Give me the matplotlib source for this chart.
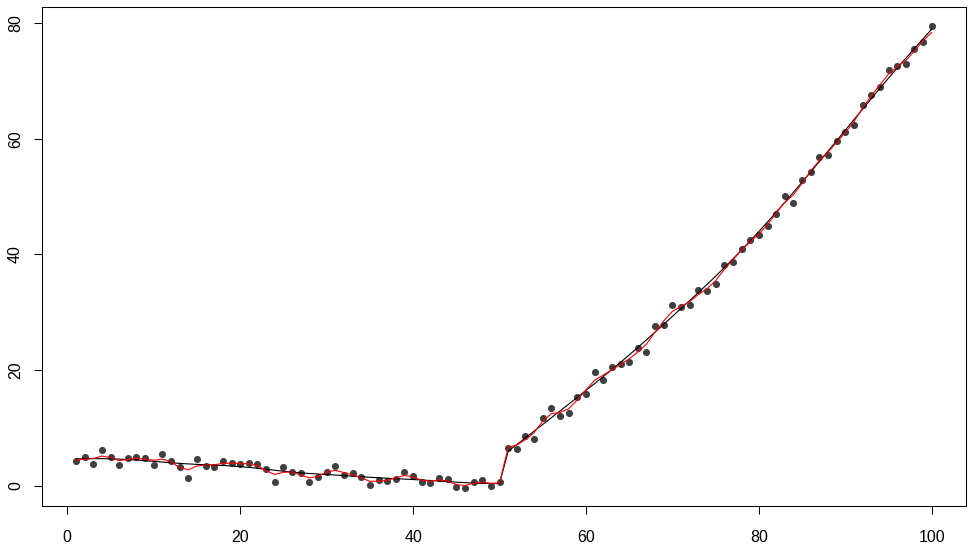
import numpy as np
import matplotlib
matplotlib.use("Agg")
import matplotlib.pyplot as plt

plt.rcParams['font.family'] = ['Liberation Sans', 'DejaVu Sans']

# observations
x = np.arange(1, 101)
y_before = [4.27, 5.06, 3.85, 6.17, 4.96, 3.68, 4.78, 5.01, 4.84, 3.68,
            5.47, 4.27, 3.23, 1.43, 4.61, 3.40, 3.33, 4.32, 3.92, 3.75,
            3.97, 3.85, 2.88, 0.69, 3.23, 2.42, 2.19, 0.69, 1.61, 2.47,
            3.45, 1.85, 2.19, 1.61, 0.17, 1.04, 0.81, 1.21, 2.37, 1.78,
            0.69, 0.47, 1.43, 1.26, -0.17, -0.26, 0.69, 1.04, 0.00, 0.74]
y_after = [6.61, 6.44, 8.58, 8.12, 11.69, 13.52, 12.14, 12.66, 15.37, 15.84,
           19.64, 18.31, 20.50, 21.02, 21.47, 23.83, 23.14, 27.69, 27.81, 31.21,
           30.86, 31.21, 33.80, 33.73, 34.84, 38.12, 38.74, 40.88, 42.44, 43.30,
           44.91, 47.03, 50.09, 48.93, 52.90, 54.28, 56.77, 57.12, 59.59, 61.14,
           62.30, 65.75, 67.53, 68.91, 71.80, 72.54, 72.83, 75.47, 76.74, 79.50]
y = np.array(y_before + y_after)
breakpoint_x = 50


def local_linear(xs, ys, bw):
    out = []
    for x0 in xs:
        w = np.exp(-0.5 * ((xs - x0) / bw) ** 2)
        X = np.column_stack([np.ones_like(xs), xs - x0])
        W = np.diag(w)
        beta = np.linalg.solve(X.T @ W @ X, X.T @ W @ ys)
        out.append(beta[0])
    return np.array(out)


def kernel_mean(xs, ys, bw):
    out = []
    for x0 in xs:
        w = np.exp(-0.5 * ((xs - x0) / bw) ** 2)
        out.append(np.sum(w * ys) / np.sum(w))
    return np.array(out)


seg1 = x <= breakpoint_x
seg2 = ~seg1

black = np.empty_like(y)
red = np.empty_like(y)
for m in (seg1, seg2):
    xs = x[m].astype(float)
    black[m] = local_linear(xs, y[m], 4.0)
    red[m] = kernel_mean(xs, y[m], 0.9)

W, H = 973, 548
fig = plt.figure(figsize=(W / 100, H / 100), dpi=100)
left, right, top, bottom = 41.7, 966, 7.3, 506
ax = fig.add_axes([left / W, (H - bottom) / H, (right - left) / W, (bottom - top) / H])

ax.scatter(x, y, s=26, color='#3f3f3f', zorder=2, linewidths=0)
ax.plot(x, black, color='black', lw=0.8, zorder=3)
ax.plot(x, red, color='#ff0000', lw=0.8, zorder=4)

xr = x.max() - x.min()
ax.set_xlim(x.min() - 0.04 * xr, x.max() + 0.04 * xr)
yr = y.max() - y.min()
ax.set_ylim(y.min() - 0.04 * yr, y.max() + 0.04 * yr)

ax.set_xticks([0, 20, 40, 60, 80, 100])
ax.set_yticks([0, 20, 40, 60, 80])
ax.tick_params(direction='out', length=5.5, width=0.75, labelsize=11.5, colors='black')
ax.tick_params(axis='x', pad=12)
ax.tick_params(axis='y', pad=8)
for lab in ax.get_yticklabels():
    lab.set_rotation(90)
    lab.set_va('center')
for s in ax.spines.values():
    s.set_linewidth(0.75)

fig.savefig('out.png', dpi=100)
